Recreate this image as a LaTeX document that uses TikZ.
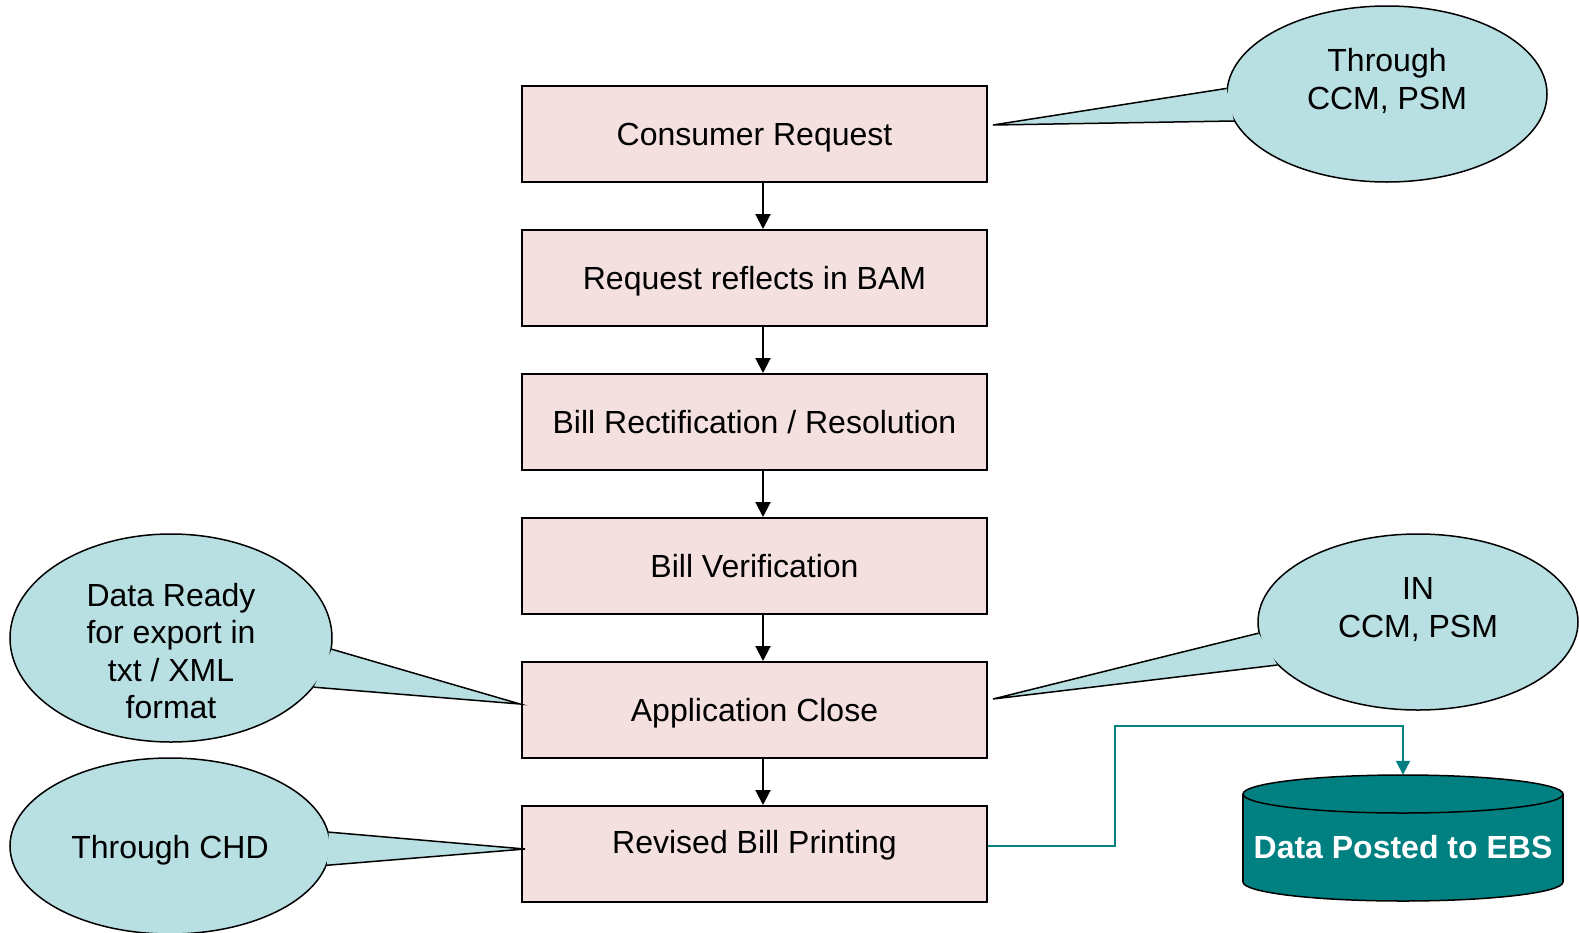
\documentclass[tikz,border=0pt]{standalone}
\usepackage{fontspec}
\setmainfont{Liberation Sans}
\usetikzlibrary{shapes.geometric,arrows.meta}
\definecolor{boxfill}{HTML}{F3E0DF}
\definecolor{callfill}{HTML}{B8DFE2}
\definecolor{tealc}{HTML}{008080}
\begin{document}
\begin{tikzpicture}[x=1pt,y=-1pt,
  every node/.style={font=\fontsize{32}{37.5}\selectfont},
  stepbox/.style={draw=black, line width=2pt, fill=boxfill, minimum width=465pt, minimum height=96pt, inner sep=0pt, text height=23pt, text depth=0pt},
  flow/.style={line width=2pt, -{Triangle[width=15pt,length=15pt]}},
  callout/.style={ellipse, draw=black, line width=1.5pt, fill=callfill, inner sep=0pt, minimum width=320pt, minimum height=176pt},
  tail/.style={draw=black, line width=1.5pt},
  txt/.style={align=center, inner sep=0pt},
  link/.style={draw=tealc, line width=2pt, -{Triangle[width=14pt,length=14pt]}},
  cyl/.style={fill=tealc, draw=black, line width=1.5pt}
]
\useasboundingbox (0,0) rectangle (1579,932);

% process boxes
\node[stepbox] (b1) at (754.5,134) {Consumer Request};
\node[stepbox] (b2) at (754.5,278) {Request reflects in BAM};
\node[stepbox] (b3) at (754.5,422) {Bill Rectification / Resolution};
\node[stepbox] (b4) at (754.5,566) {Bill Verification};
\node[stepbox] (b5) at (754.5,710) {Application Close};
\node[stepbox] (b6) at (754.5,854) {};
\node[txt, text height=23pt, text depth=0pt] (t6) at (754.5,842) {Revised Bill Printing};

\foreach \a/\b in {b1/b2,b2/b3,b3/b4,b4/b5,b5/b6}
  \draw[flow] ([xshift=8.5pt]\a.south) -- ([xshift=8.5pt]\b.north);

% callout 1 (top right)
\node[callout] (c1) at (1387,94) {};
\coordinate (k1) at ([xshift=5pt,yshift=9pt]b1.east);
\fill[callfill] (c1.178.9) -- (k1) -- (c1.190.9) -- cycle;
\draw[tail] (c1.178.9) -- (k1) -- (c1.190.9);
\node[txt] (c1t) at (1387,81) {Through\\CCM, PSM};

% callout 2 (left)
\node[callout, minimum width=322pt, minimum height=208pt] (c2) at (171,638) {};
\coordinate (k2) at ([xshift=-1pt,yshift=6pt]b5.west);
\fill[callfill] (c2.356.8) -- (k2) -- (c2.341.1) -- cycle;
\draw[tail] (c2.356.8) -- (k2) -- (c2.341.1);
\node[txt] (c2t) at (171,651) {Data Ready\\for export in\\txt / XML\\format};

% callout 3 (right)
\node[callout] (c3) at (1418,622) {};
\coordinate (k3) at ([xshift=5pt,yshift=11pt]b5.east);
\fill[callfill] (c3.184) -- (k3) -- (c3.197.6) -- cycle;
\draw[tail] (c3.184) -- (k3) -- (c3.197.6);
\node[txt] (c3t) at (1418,609.5) {IN\\CCM, PSM};

% callout 4 (bottom left)
\node[callout] (c4) at (170,846) {};
\coordinate (k4) at ([xshift=4pt,yshift=5pt]b6.west);
\fill[callfill] (c4.5.1) -- (k4) -- (c4.353.5) -- cycle;
\draw[tail] (c4.5.1) -- (k4) -- (c4.353.5);
\node[txt] (c4t) at (170,850) {Through CHD};

% database cylinder
\node[minimum width=320pt, minimum height=126pt, inner sep=0pt] (ebs) at (1403,838) {};
\path[cyl] (1403,882) ellipse [x radius=160pt, y radius=19pt];
\fill[tealc] (1243,794) rectangle (1563,882);
\draw[line width=1.5pt] (1243,794) -- (1243,882) (1563,794) -- (1563,882);
\path[cyl] (1403,794) ellipse [x radius=160pt, y radius=19pt];
\node[txt, text=white, font=\fontsize{32}{38}\selectfont\bfseries] (ebst) at (1403,847) {Data Posted to EBS};

% teal connector
\coordinate (bend) at (1115,726);
\draw[link] ([yshift=8pt]b6.east) -| (bend) -| (ebs.north);
\end{tikzpicture}
\end{document}
